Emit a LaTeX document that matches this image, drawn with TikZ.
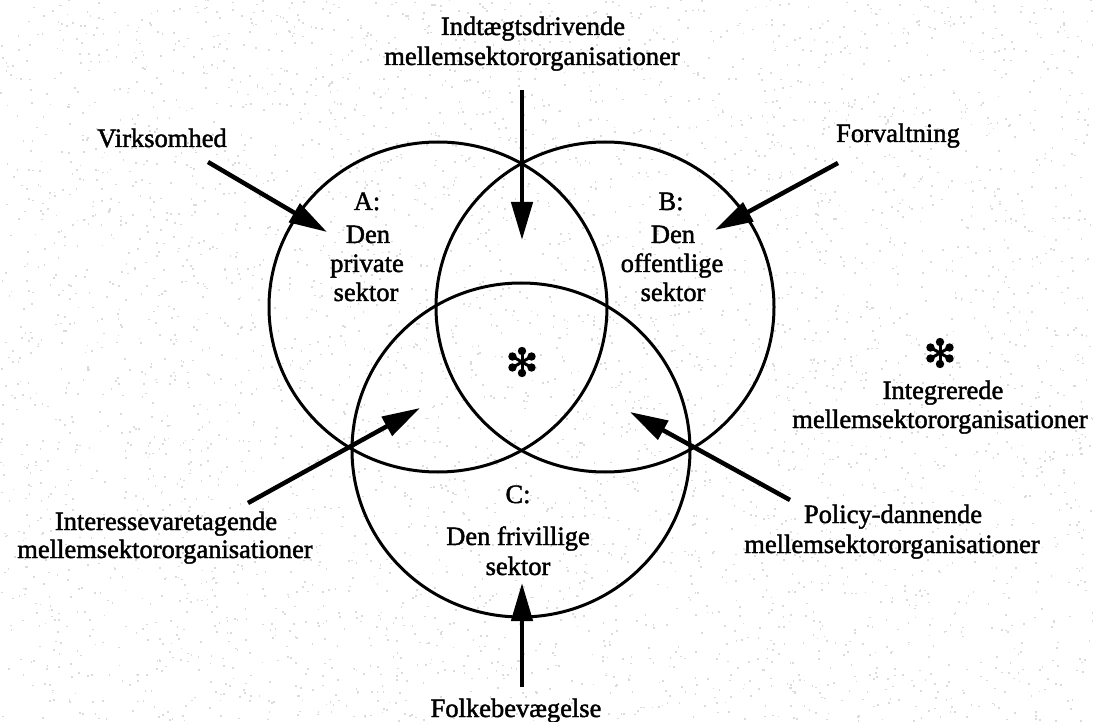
\documentclass[tikz,border=0pt]{standalone}
\usepackage{fontspec}
\setmainfont{Liberation Serif}[FakeBold=1.6]
\usetikzlibrary{arrows.meta}
\tikzset{
  ring/.style={line width=3pt, black},
  arr/.style={line width=4.5pt, -{Triangle[length=38pt,width=21pt]}},
  lbl/.style={anchor=base, inner sep=0pt, font=\fontsize{26.5pt}{30pt}\selectfont},
  spoke/.style={line width=3pt},
}
\begin{document}
\begin{tikzpicture}[x=1pt,y=-1pt]
\useasboundingbox (0,0) rectangle (1093,722);
\clip (0,0) rectangle (1093,722);
\fill[white] (0,0) rectangle (1093,722);
\pgfmathsetseed{7}
\foreach \i in {1,...,4500}{
  \fill[gray!28] ({rnd*1093},{rnd*722}) rectangle ++(1.7,-1.7);
}
% circles
\draw[ring] (438,307) ellipse [x radius=169pt, y radius=165pt];
\draw[ring] (605,307) ellipse [x radius=169pt, y radius=165pt];
\draw[ring] (521,450) ellipse [x radius=169pt, y radius=167pt];
% labels outside
\node[lbl] (ind1) at (533,35) {Indtægtsdrivende};
\node[lbl] (ind2) at (532,65) {mellemsektororganisationer};
\node[lbl] (virk) at (162,147) {Virksomhed};
\node[lbl] (forv) at (898,142) {Forvaltning};
\node[lbl] (int1) at (943,399) {Integrerede};
\node[lbl] (int2) at (940,428) {mellemsektororganisationer};
\node[lbl] (pol1) at (893,523) {Policy-dannende};
\node[lbl] (pol2) at (892,553) {mellemsektororganisationer};
\node[lbl] (ivt1) at (166,530) {Interessevaretagende};
\node[lbl] (ivt2) at (165,558) {mellemsektororganisationer};
\node[lbl] (folk) at (516,717) {Folkebevægelse};
% labels inside
\node[lbl] (a0) at (367,210) {A:};
\node[lbl] (a1) at (368,243) {Den};
\node[lbl] (a2) at (367,272) {private};
\node[lbl] (a3) at (366,301) {sektor};
\node[lbl] (b0) at (671,210) {B:};
\node[lbl] (b1) at (673,243) {Den};
\node[lbl] (b2) at (672,272) {offentlige};
\node[lbl] (b3) at (673,301) {sektor};
\node[lbl] (c0) at (518,503) {C:};
\node[lbl] (c1) at (518,545) {Den frivillige};
\node[lbl] (c2) at (518,575) {sektor};
% stars
\foreach \cx/\cy in {522/362, 940/353}{
  \foreach \a in {90,30,-30,-90,-150,150}{
    \draw[spoke] (\cx,\cy) -- ++(\a:10);
    \fill (\cx,\cy) ++(\a:11) circle (4.2pt);
  }
}
% arrow end points
\coordinate (vt) at (208,162);  \coordinate (vh) at (327,232);
\coordinate (it) at (522,90);   \coordinate (ih) at (522,240);
\coordinate (ft) at (838,163);  \coordinate (fh) at (715,230);
\coordinate (st) at (248,503);  \coordinate (sh) at (420,408);
\coordinate (pt) at (790,500);  \coordinate (ph) at (630,412);
\coordinate (kt) at (522,687);  \coordinate (kh) at (522,583);
\draw[arr] (vt) -- (vh);
\draw[arr] (it) -- (ih);
\draw[arr] (ft) -- (fh);
\draw[arr] (st) -- (sh);
\draw[arr] (pt) -- (ph);
\draw[arr] (kt) -- (kh);
\end{tikzpicture}
\end{document}
